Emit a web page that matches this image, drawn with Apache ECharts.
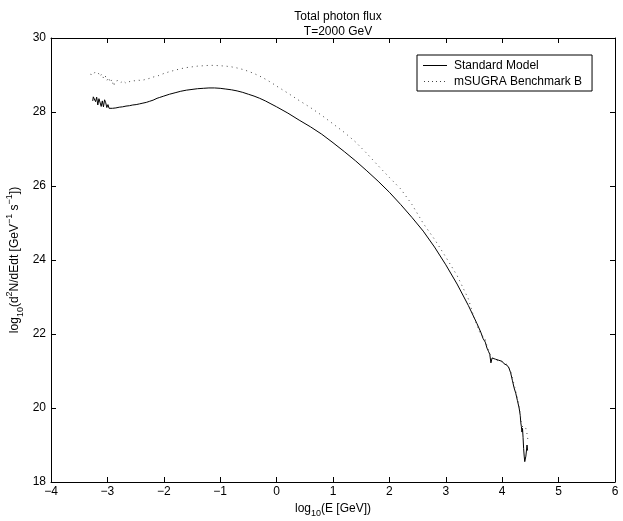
<!DOCTYPE html>
<html>
<head>
<meta charset="utf-8">
<script src="https://cdn.jsdelivr.net/npm/echarts@6/dist/echarts.min.js"></script>
<style>
html,body{margin:0;padding:0;background:#fff;}
#chart{width:623px;height:521px;}
</style>
</head>
<body>
<div id="chart"></div>
<script>
var titleLines = ['Total photon flux', 'T=2000 GeV'];
var seriesNames = ['Standard Model', 'mSUGRA Benchmark B'];
var xTicks = [-4, -3, -2, -1, 0, 1, 2, 3, 4, 5, 6];
var yTicks = [18, 20, 22, 24, 26, 28, 30];

var smX = [-3.26,-3.25,-3.23,-3.21,-3.19,-3.17,-3.15,-3.13,-3.11,-3.09,-3.07,-3.05,-3.03,-3.01,-2.99,-2.97,-2.94,-2.91,-2.88,-2.85,-2.82,-2.79,-2.76,-2.73,-2.70,-2.67,-2.64,-2.61,-2.58,-2.55,-2.52,-2.49,-2.46,-2.43,-2.40,-2.37,-2.34,-2.31,-2.28,-2.25,-2.22,-2.19,-2.16,-2.12,-2.08,-2.0,-1.9,-1.8,-1.7,-1.6,-1.5,-1.4,-1.3,-1.2,-1.1,-1.0,-0.9,-0.8,-0.7,-0.6,-0.5,-0.4,-0.3,-0.2,-0.1,0.0,0.2,0.4,0.6,0.8,1.0,1.2,1.4,1.6,1.8,2.0,2.2,2.4,2.6,2.8,3.0,3.2,3.4,3.55,3.62,3.66,3.70,3.73,3.76,3.78,3.80,3.82,3.85,3.88,3.91,3.94,3.97,4.00,4.03,4.06,4.09,4.12,4.15,4.18,4.21,4.24,4.27,4.30,4.32,4.33,4.34,4.35,4.36,4.37,4.38,4.39,4.40,4.41,4.42,4.43,4.44,4.45];
var smY = [28.30,28.41,28.44,28.28,28.40,28.19,28.36,28.37,28.15,28.30,28.14,28.33,28.25,28.12,28.20,28.10,28.14,28.10,28.13,28.11,28.15,28.13,28.17,28.14,28.18,28.16,28.20,28.17,28.21,28.19,28.23,28.20,28.24,28.22,28.27,28.24,28.29,28.26,28.31,28.29,28.34,28.32,28.36,28.37,28.39,28.43,28.48,28.52,28.56,28.59,28.61,28.63,28.64,28.65,28.65,28.64,28.62,28.60,28.57,28.53,28.48,28.43,28.37,28.30,28.22,28.14,27.97,27.78,27.60,27.40,27.17,26.93,26.68,26.41,26.13,25.83,25.50,25.15,24.78,24.35,23.87,23.35,22.77,22.29,22.05,21.88,21.78,21.62,21.52,21.45,21.22,21.35,21.30,21.32,21.27,21.29,21.24,21.26,21.20,21.22,21.15,21.08,20.95,20.75,20.55,20.40,20.20,20.00,19.80,19.60,19.50,19.35,19.45,19.20,18.90,18.70,18.55,18.52,18.70,18.75,19.00,18.85];

var suX = [-3.30,-3.28,-3.25,-3.22,-3.19,-3.16,-3.13,-3.10,-3.07,-3.04,-3.01,-2.98,-2.95,-2.92,-2.89,-2.86,-2.83,-2.80,-2.76,-2.72,-2.68,-2.64,-2.60,-2.55,-2.50,-2.45,-2.40,-2.35,-2.30,-2.25,-2.20,-2.10,-2.0,-1.9,-1.8,-1.7,-1.6,-1.5,-1.4,-1.3,-1.2,-1.1,-1.0,-0.9,-0.8,-0.7,-0.6,-0.5,-0.4,-0.3,-0.2,-0.1,0.0,0.2,0.4,0.6,0.8,1.0,1.2,1.4,1.6,1.8,2.0,2.2,2.4,2.6,2.8,3.0,3.2,3.4,3.5,3.6,3.65,3.70,3.74,3.77,3.80,3.84,3.88,3.92,3.96,4.00,4.04,4.08,4.12,4.16,4.20,4.24,4.28,4.31,4.34,4.37,4.40,4.42,4.44,4.46];
var suY = [29.02,29.05,29.00,29.08,29.12,29.05,28.96,29.03,28.92,28.99,28.85,28.93,28.80,28.88,28.70,28.83,28.78,28.86,28.80,28.84,28.79,28.83,28.82,28.85,28.84,28.86,28.85,28.87,28.89,28.91,28.94,28.98,29.04,29.09,29.13,29.17,29.20,29.22,29.24,29.25,29.26,29.26,29.25,29.24,29.22,29.19,29.15,29.10,29.04,28.97,28.89,28.80,28.70,28.51,28.31,28.12,27.91,27.68,27.45,27.19,26.88,26.55,26.23,25.92,25.50,24.99,24.56,24.08,23.58,22.95,22.45,22.05,21.95,21.85,21.62,21.58,21.40,21.35,21.30,21.28,21.25,21.25,21.22,21.18,21.10,20.95,20.70,20.45,20.20,19.95,19.60,19.45,19.40,19.45,19.30,19.10];

function pairs(xs, ys) { return xs.map(function (x, i) { return [x, ys[i]]; }); }

var FONT = 'Liberation Sans, Arial, Helvetica, sans-serif';
function minus(v) { return String(v).replace('-', '\u2212'); }

var chart = echarts.init(document.getElementById('chart'), null, {renderer: 'canvas'});

var axisCommon = {
  axisLine: {show: true, onZero: false, lineStyle: {color: '#000', width: 1}},
  axisTick: {show: true, inside: true, length: 5, lineStyle: {color: '#000', width: 1}},
  splitLine: {show: false}
};

var solidIcon = 'path://M0,0h24v1h-24z';
var dottedIcon = 'path://M1,0h1v1h-1z M5,0h1v1h-1z M9,0h1v1h-1z M13,0h1v1h-1z M17,0h1v1h-1z M21,0h1v1h-1z M0,0h0.01v1h-0.01z M24,0h0.01v1h-0.01z';

var option = {
  backgroundColor: '#fff',
  animation: false,
  textStyle: {fontFamily: FONT},
  title: {
    text: titleLines.join('\n'),
    left: 333, top: 4, textAlign: 'center',
    textStyle: {fontSize: 12, fontWeight: 'normal', color: '#000', fontFamily: FONT, lineHeight: 15}
  },
  legend: {
    orient: 'vertical',
    left: 417, top: 55,
    width: 175,
    padding: [4, 10, 3, 6],
    itemGap: 3,
    itemWidth: 24, itemHeight: 1,
    borderColor: '#000', borderWidth: 1,
    backgroundColor: '#fff',
    textStyle: {fontSize: 12, color: '#000', fontFamily: FONT, padding: [0, 0, 0, 2], lineHeight: 13},
    data: [
      {name: seriesNames[0], icon: solidIcon},
      {name: seriesNames[1], icon: dottedIcon}
    ]
  },
  grid: {left: 51, right: 8, top: 38, bottom: 39, containLabel: false, outerBoundsMode: 'none'},
  xAxis: [
    Object.assign({}, axisCommon, {
      type: 'value', position: 'bottom', min: xTicks[0], max: xTicks[xTicks.length - 1], interval: 1,
      axisLabel: {color: '#000', fontSize: 12, fontFamily: FONT, margin: 4, formatter: minus},
      name: '{n|log}{s|10}{n|(E [GeV])}', nameLocation: 'middle', nameGap: 17,
      nameTextStyle: {rich: {
        n: {fontSize: 12, color: '#000', fontFamily: FONT, lineHeight: 18, verticalAlign: 'middle'},
        s: {fontSize: 9, color: '#000', fontFamily: FONT, verticalAlign: 'bottom', lineHeight: 18}
      }}
    }),
    Object.assign({}, axisCommon, {
      type: 'value', position: 'top', min: xTicks[0], max: xTicks[xTicks.length - 1], interval: 1,
      axisLabel: {show: false}
    })
  ],
  yAxis: [
    Object.assign({}, axisCommon, {
      type: 'value', position: 'left', min: yTicks[0], max: yTicks[yTicks.length - 1], interval: 2,
      axisLabel: {color: '#000', fontSize: 12, fontFamily: FONT, margin: 5},
      name: '{n|log}{s|10}{n|(d}{p|2}{n|N/dEdt [GeV}{p|\u22121}{n| s}{p|\u22121}{n|])}',
      nameLocation: 'middle', nameRotate: 90, nameGap: 26, nameMoveOverlap: false,
      nameTextStyle: {rich: {
        n: {fontSize: 12, color: '#000', fontFamily: FONT, lineHeight: 20, verticalAlign: 'middle'},
        s: {fontSize: 9, color: '#000', fontFamily: FONT, verticalAlign: 'bottom', lineHeight: 20},
        p: {fontSize: 9, color: '#000', fontFamily: FONT, verticalAlign: 'top', lineHeight: 20}
      }}
    }),
    Object.assign({}, axisCommon, {
      type: 'value', position: 'right', min: yTicks[0], max: yTicks[yTicks.length - 1], interval: 2,
      axisLabel: {show: false}
    })
  ],
  series: [
    {
      name: seriesNames[0], type: 'line', xAxisIndex: 0, yAxisIndex: 0,
      data: pairs(smX, smY), symbol: 'none', showSymbol: false,
      lineStyle: {color: '#000', width: 1, type: 'solid'},
      itemStyle: {color: '#000'}
    },
    {
      name: seriesNames[1], type: 'line', xAxisIndex: 0, yAxisIndex: 0,
      data: pairs(suX, suY), symbol: 'none', showSymbol: false,
      lineStyle: {color: '#444', width: 1, type: [1, 4]},
      itemStyle: {color: '#444'}
    }
  ]
};
chart.setOption(option);
</script>
</body>
</html>
